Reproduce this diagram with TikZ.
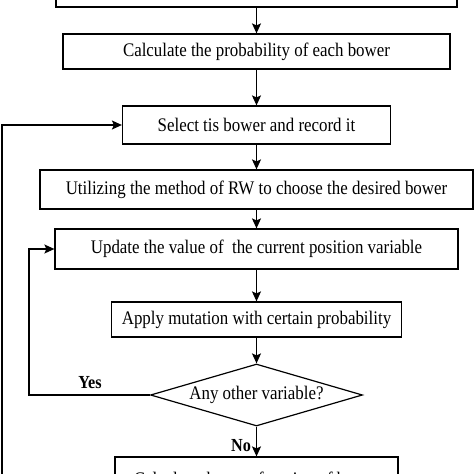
\documentclass[tikz,border=0pt]{standalone}
\usepackage{fontspec}
\setmainfont{Liberation Serif}[FakeStretch=0.88]
\usetikzlibrary{shapes.geometric,arrows.meta}
\begin{document}
\begin{tikzpicture}[x=1pt,y=-1pt,
 box/.style={draw, line width=1.2pt, inner sep=0pt, font=\fontsize{19.2}{22}\selectfont},
 dia/.style={draw, diamond, line width=1.2pt, inner sep=0pt, aspect=3.42, font=\fontsize{19.2}{22}\selectfont},
 ar/.style={-{Stealth[length=10pt,width=9pt,inset=2pt]}, line width=1.2pt},
 lbl/.style={font=\fontsize{18.4}{21}\selectfont\bfseries}]
\useasboundingbox (0,0) rectangle (474,474);
\clip (0,0) rectangle (474,474);
\node[box, minimum width=401, minimum height=40] (b1) at (256.5,-13) {};
\node[box, minimum width=387, minimum height=35] (b2) at (256.5,51.5) {Calculate the probability of each bower};
\node[box, minimum width=268, minimum height=38] (b3) at (256.5,125) {Select tis bower and record it};
\node[box, minimum width=433, minimum height=39] (b4) at (256.5,189.5) {Utilizing the method of RW to choose the desired bower};
\node[box, minimum width=403, minimum height=40] (b5) at (256.5,249) {Update the value of~ the current position variable};
\node[box, minimum width=290, minimum height=35] (b6) at (256.5,319.5) {Apply mutation with certain probability};
\node[dia, minimum width=212, minimum height=62] (d) at (256.5,395) {Any other variable?};
\node[box, minimum width=283, minimum height=44] (b7) at (256.5,479) {Calculate the cost function of bower};
\coordinate (yl) at (29,395);
\coordinate (ll) at (2,500);
\draw[ar] (b1.south) -- (b2.north);
\draw[ar] (b2.south) -- (b3.north);
\draw[ar] (b3.south) -- (b4.north);
\draw[ar] (b4.south) -- (b5.north);
\draw[ar] (b5.south) -- (b6.north);
\draw[ar] (b6.south) -- (d.north);
\draw[ar] (d.south) -- (b7.north);
\draw[ar] (d.west) -- (yl) |- (b5.west);
\draw[ar] (ll) |- (b3.west);
\node[lbl] (yes) at (90,383) {Yes};
\node[lbl] (no) at (241,446) {No};
\end{tikzpicture}
\end{document}
